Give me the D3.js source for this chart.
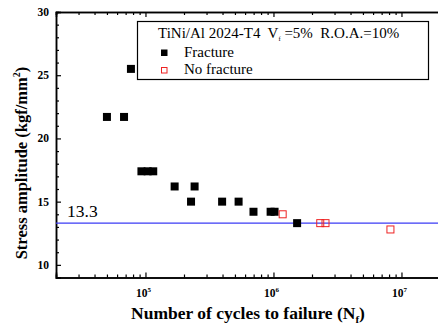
<!DOCTYPE html>
<html>
<head>
<meta charset="utf-8">
<script src="https://cdn.jsdelivr.net/npm/d3@7"></script>
<style>
body { margin: 0; background: #fff; }
svg { display: block; font-family: "Liberation Serif", "Times New Roman", serif; }
text { white-space: pre; }
</style>
</head>
<body>
<div id="chart"></div>
<script>
// fatigue data
var fractureN = [5.0e4, 6.8e4, 7.7e4, 9.3e4, 1.04e5, 1.15e5, 1.69e5, 2.27e5, 2.42e5, 3.97e5, 5.34e5, 6.98e5, 9.5e5, 1.02e6, 1.53e6];
var fractureS = [21.7, 21.7, 25.5, 17.4, 17.4, 17.4, 16.2, 15.0, 16.2, 15.0, 15.0, 14.2, 14.2, 14.2, 13.3];
var noFractureN = [1.18e6, 2.32e6, 2.55e6, 8.2e6];
var noFractureS = [14.0, 13.3, 13.3, 12.8];
var limitValue = 13.3;
var yTicks = [10, 15, 20, 25, 30];
var xTicks = [1e5, 1e6, 1e7];

var width = 438, height = 326;
var plotLeft = 56, plotRight = 440, plotTop = 12, plotBottom = 277.5;

var svg = d3.select("#chart").append("svg")
	.attr("width", width)
	.attr("height", height);

var x = d3.scaleLog().domain([2e4, 2e7]).range([plotLeft, plotRight]);
var y = d3.scaleLinear().domain([9, 30]).range([plotBottom, plotTop]);

// minor ticks
var xMinor = [];
[1e4, 1e5, 1e6, 1e7].forEach(function (d) {
	for (var k = 2; k <= 9; k++) {
		var v = d * k;
		if (v >= 2e4 && v <= 2e7 && xTicks.indexOf(v) < 0) xMinor.push(v);
	}
});
var yMinor = d3.range(9, 31).filter(function (d) { return yTicks.indexOf(d) < 0; });

var g = svg.append("g");

// bottom axis
g.append("g")
	.attr("transform", "translate(0," + plotBottom + ")")
	.call(d3.axisBottom(x).tickValues(xMinor).tickSize(-3).tickFormat(""));
g.append("g")
	.attr("transform", "translate(0," + plotBottom + ")")
	.call(d3.axisBottom(x).tickValues(xTicks).tickSize(-5).tickFormat(""));
// top axis
g.append("g")
	.attr("transform", "translate(0," + plotTop + ")")
	.call(d3.axisTop(x).tickValues(xMinor).tickSize(-3).tickFormat(""));
g.append("g")
	.attr("transform", "translate(0," + plotTop + ")")
	.call(d3.axisTop(x).tickValues(xTicks).tickSize(-5).tickFormat(""));
// left axis
g.append("g")
	.attr("transform", "translate(" + plotLeft + ",0)")
	.call(d3.axisLeft(y).tickValues(yMinor).tickSize(-3).tickFormat(""));
g.append("g")
	.attr("transform", "translate(" + plotLeft + ",0)")
	.call(d3.axisLeft(y).tickValues(yTicks).tickSize(-5).tickFormat(""));

g.selectAll(".domain").attr("stroke", "#000").attr("stroke-width", 1.5);
g.selectAll(".tick line").attr("stroke", "#000").attr("stroke-width", 1.2);

// y tick labels
svg.selectAll(".ylab")
	.data(yTicks)
	.enter()
	.append("text")
	.attr("x", plotLeft - 7)
	.attr("y", function (d) { return y(d) + 4; })
	.attr("text-anchor", "end")
	.style("font-size", "11.5px")
	.style("font-weight", "bold")
	.text(function (d) { return d; });

// x tick labels 10^n
var xl = svg.selectAll(".xlab")
	.data(xTicks)
	.enter()
	.append("text")
	.attr("x", function (d) { return x(d) - 2; })
	.attr("y", 297)
	.attr("text-anchor", "middle")
	.style("font-size", "11.5px")
	.style("font-weight", "bold");
xl.append("tspan").text("10");
xl.append("tspan")
	.attr("dy", -5)
	.style("font-size", "7px")
	.text(function (d) { return Math.round(Math.log10(d)); });

// axis titles
var xt = svg.append("text")
	.attr("x", (plotLeft + plotRight) / 2)
	.attr("y", 319)
	.attr("text-anchor", "middle")
	.style("font-size", "17.5px")
	.style("font-weight", "bold");
xt.append("tspan").text("Number of cycles to failure (N");
xt.append("tspan").attr("dy", 4).style("font-size", "11px").text("f");
xt.append("tspan").attr("dy", -4).text(")");

var yt = svg.append("text")
	.attr("transform", "translate(27,163) rotate(-90)")
	.attr("text-anchor", "middle")
	.style("font-size", "16.5px")
	.style("font-weight", "bold");
yt.append("tspan").text("Stress amplitude (kgf/mm");
yt.append("tspan").attr("dy", -7).style("font-size", "10px").text("2");
yt.append("tspan").attr("dy", 7).text(")");

// endurance line
svg.append("line")
	.attr("x1", plotLeft)
	.attr("x2", plotRight)
	.attr("y1", y(limitValue))
	.attr("y2", y(limitValue))
	.attr("stroke", "#3b3bf5")
	.attr("stroke-width", 1.3);
svg.append("text")
	.attr("x", 67)
	.attr("y", y(limitValue) - 6.5)
	.style("font-size", "17.5px")
	.text(limitValue);

// points
var sq = 8;
svg.selectAll(".frac")
	.data(fractureN)
	.enter()
	.append("rect")
	.attr("x", function (d) { return x(d) - sq / 2; })
	.attr("y", function (d, i) { return y(fractureS[i]) - sq / 2; })
	.attr("width", sq)
	.attr("height", sq)
	.attr("fill", "#000");

svg.selectAll(".nofrac")
	.data(noFractureN)
	.enter()
	.append("rect")
	.attr("x", function (d) { return x(d) - sq / 2 + 0.5; })
	.attr("y", function (d, i) { return y(noFractureS[i]) - sq / 2 + 0.5; })
	.attr("width", sq - 1)
	.attr("height", sq - 1)
	.attr("fill", "none")
	.attr("stroke", "#ee2222")
	.attr("stroke-width", 1);

// legend
var lg = svg.append("g");
lg.append("rect")
	.attr("x", 137.5)
	.attr("y", 21.5)
	.attr("width", 291)
	.attr("height", 58)
	.attr("fill", "#fff")
	.attr("stroke", "#000")
	.attr("stroke-width", 1.2);
var title = lg.append("text")
	.attr("x", 158)
	.attr("y", 37.5)
	.style("font-size", "15px");
title.append("tspan").text("TiNi/Al 2024-T4  V");
title.append("tspan").attr("dy", 3).style("font-size", "6.5px").text("f");
title.append("tspan").attr("dy", -3).text(" =5%  R.O.A.=10%");

lg.append("rect")
	.attr("x", 161).attr("y", 49.5).attr("width", 6.5).attr("height", 6.5)
	.attr("fill", "#000");
lg.append("text").attr("x", 184).attr("y", 56.5).style("font-size", "15px").text("Fracture");
lg.append("rect")
	.attr("x", 161.5).attr("y", 67.5).attr("width", 5.5).attr("height", 5.5)
	.attr("fill", "none").attr("stroke", "#ee2222").attr("stroke-width", 1);
lg.append("text").attr("x", 184).attr("y", 74).style("font-size", "15px").text("No fracture");
</script>
</body>
</html>
